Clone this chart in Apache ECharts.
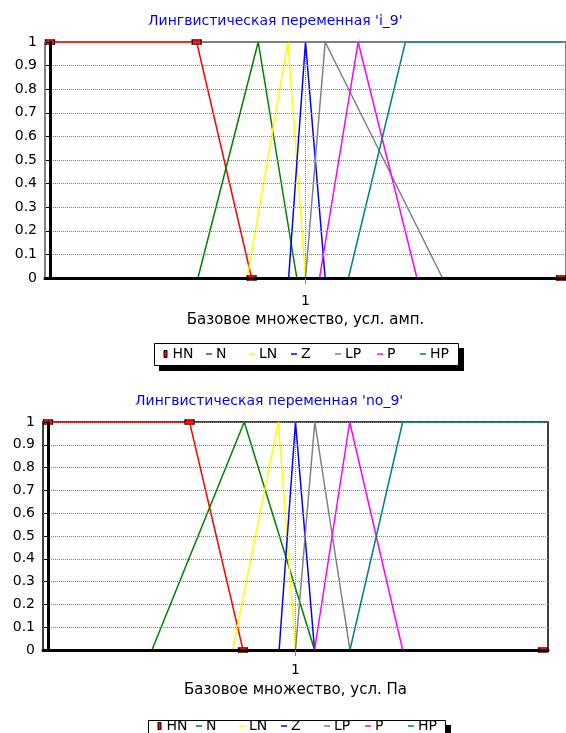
<!DOCTYPE html>
<html><head><meta charset="utf-8">
<script src="https://cdn.jsdelivr.net/npm/echarts@6/dist/echarts.min.js"></script>
<style>html,body{margin:0;padding:0;background:#fff}#c{width:566px;height:733px}</style>
</head><body><div id="c"></div>
<script>
// ---- Data ----
const seriesNames = ['HN', 'N', 'LN', 'Z', 'LP', 'P', 'HP'];
const seriesColors = ['#FF0000', '#008000', '#FFFF00', '#0000FF', '#808080', '#FF00FF', '#008080'];
const tickLabels = [1];

// chart 1: 'i_9'
const i9_HN_x = [0, 0.574, 0.789, 2];   const i9_HN_y = [1, 1, 0, 0];
const i9_N_x  = [0.579, 0.815, 0.966];  const i9_N_y  = [0, 1, 0];
const i9_LN_x = [0.772, 0.931, 1.0];    const i9_LN_y = [0, 1, 0];
const i9_Z_x  = [0.934, 1.0, 1.077];    const i9_Z_y  = [0, 1, 0];
const i9_LP_x = [1.0, 1.077, 1.536];    const i9_LP_y = [0, 1, 0];
const i9_P_x  = [1.055, 1.206, 1.436];  const i9_P_y  = [0, 1, 0];
const i9_HP_x = [1.168, 1.391, 2];      const i9_HP_y = [0, 1, 1];

// chart 2: 'no_9'
const no9_HN_x = [0, 0.572, 0.788, 2];  const no9_HN_y = [1, 1, 0, 0];
const no9_N_x  = [0.420, 0.793, 1.077]; const no9_N_y  = [0, 1, 0];
const no9_LN_x = [0.746, 0.931, 1.0];   const no9_LN_y = [0, 1, 0];
const no9_Z_x  = [0.934, 1.0, 1.077];   const no9_Z_y  = [0, 1, 0];
const no9_LP_x = [1.0, 1.078, 1.22];    const no9_LP_y = [0, 1, 0];
const no9_P_x  = [1.077, 1.219, 1.433]; const no9_P_y  = [0, 1, 0];
const no9_HP_x = [1.22, 1.433, 2];      const no9_HP_y = [0, 1, 1];

const titles = ["Лингвистическая переменная 'i_9'", "Лингвистическая переменная 'no_9'"];
const axisNames = ['Базовое множество, усл. амп.', 'Базовое множество, усл. Па'];

const chart1 = [[i9_HN_x,i9_HN_y],[i9_N_x,i9_N_y],[i9_LN_x,i9_LN_y],[i9_Z_x,i9_Z_y],[i9_LP_x,i9_LP_y],[i9_P_x,i9_P_y],[i9_HP_x,i9_HP_y]];
const chart2 = [[no9_HN_x,no9_HN_y],[no9_N_x,no9_N_y],[no9_LN_x,no9_LN_y],[no9_Z_x,no9_Z_y],[no9_LP_x,no9_LP_y],[no9_P_x,no9_P_y],[no9_HP_x,no9_HP_y]];

// ---- Layout ----
const FONT = "'DejaVu Sans', sans-serif";
const legendItemLeft = [[162, 206, 249, 291, 335, 377, 420], [156, 196, 239, 281, 324, 365, 408]];
const legendTop = [347, 719];
const legendBox = [{ x: 154, y: 343, w: 304, h: 22 }, { x: 148, y: 720, w: 297, h: 22 }];

const dashIcon = 'path://M0 0h0.05v0.05h-0.05z M0 3.3h6v1.4h-6z M5.95 7.95h0.05v0.05h-0.05z';
const hnIcon = 'path://M0 0h0.05v0.05h-0.05z M1.5 0.5h3v7h-3z M5.95 7.95h0.05v0.05h-0.05z';

function makeSeries(chartData, idx) {
  return chartData.map((pair, k) => {
    const s = {
      name: seriesNames[k], type: 'line',
      xAxisIndex: idx, yAxisIndex: idx,
      data: pair[0].map((x, j) => [x, pair[1][j]]),
      lineStyle: { color: seriesColors[k], width: 1.5 },
      itemStyle: { color: seriesColors[k] },
      showSymbol: k === 0, symbol: k === 0 ? 'rect' : 'none',
      symbolSize: [9, 5],
      animation: false, z: 3
    };
    if (k === 0) {
      s.itemStyle = { color: '#FF0000', borderColor: '#000', borderWidth: 1 };
      s.markLine = {
        silent: true, symbol: 'none', z: 1,
        label: { show: false },
        lineStyle: { color: '#808080', type: 'dotted', width: 1 },
        data: tickLabels.map(v => ({ xAxis: v }))
      };
    }
    return s;
  });
}

function makeLegends(idx) {
  return seriesNames.map((n, k) => ({
    left: legendItemLeft[idx][k], top: legendTop[idx], orient: 'horizontal',
    padding: 0, itemWidth: 6, itemHeight: 8, itemGap: 0,
    selectedMode: false, z: 10,
    textStyle: { fontFamily: FONT, fontSize: 14, color: '#000', padding: [0, 0, 0, -1] },
    data: [ k === 0
      ? { name: n, icon: hnIcon, itemStyle: { color: '#FF0000', borderColor: '#000', borderWidth: 1 } }
      : { name: n, icon: dashIcon, itemStyle: { color: seriesColors[k], borderWidth: 0 } } ]
  }));
}

function makeX(idx, min, max, nameGap, margin) {
  return {
    gridIndex: idx, type: 'value', min: min, max: max, z: 5,
    name: axisNames[idx], nameLocation: 'middle', nameGap: nameGap,
    nameTextStyle: { fontFamily: FONT, fontSize: 15, color: '#000' },
    axisLine: { show: true, lineStyle: { color: '#000', width: 3 } },
    axisTick: { show: true, customValues: tickLabels, length: 6, lineStyle: { color: '#808080', width: 1 } },
    axisLabel: { show: true, customValues: tickLabels, fontFamily: FONT, fontSize: 14, color: '#000', margin: margin },
    splitLine: { show: false }
  };
}
function makeY(idx) {
  return {
    gridIndex: idx, type: 'value', min: 0, max: 1, interval: 0.1, z: 5,
    axisLine: { show: true, lineStyle: { color: '#000', width: 3 } },
    axisTick: { show: true, length: 4, lineStyle: { color: '#000', width: 1 } },
    axisLabel: { fontFamily: FONT, fontSize: 14, color: '#000', margin: 8,
      formatter: v => String(Math.round(v * 10) / 10) },
    splitLine: { show: true, lineStyle: { color: '#808080', type: 'dotted', width: 1 } }
  };
}

const boxGraphics = [];
legendBox.forEach(b => {
  boxGraphics.push({ type: 'rect', z: 1, silent: true,
    shape: { x: b.x + 5, y: b.y + 5, width: b.w + 1, height: b.h + 1 },
    style: { fill: '#000' } });
  boxGraphics.push({ type: 'rect', z: 2, silent: true,
    shape: { x: b.x + 0.5, y: b.y + 0.5, width: b.w, height: b.h },
    style: { fill: '#fff', stroke: '#000', lineWidth: 1 } });
});

const option = {
  backgroundColor: '#fff',
  animation: false,
  title: [
    { text: titles[0], left: 148, top: 14, textStyle: { fontFamily: FONT, fontSize: 14, fontWeight: 'normal', color: '#0000FF' }, padding: 0 },
    { text: titles[1], left: 135, top: 394, textStyle: { fontFamily: FONT, fontSize: 14, fontWeight: 'normal', color: '#0000FF' }, padding: 0 }
  ],
  graphic: boxGraphics,
  legend: makeLegends(0).concat(makeLegends(1)),
  grid: [
    { left: 45, top: 42, width: 522, height: 236, show: true, borderColor: '#000', borderWidth: 1, backgroundColor: '#fff' },
    { left: 43, top: 422, width: 505, height: 228, show: true, borderColor: '#000', borderWidth: 1.5, backgroundColor: '#fff' }
  ],
  xAxis: [ makeX(0, -0.0195, 2.0195, 35, 16), makeX(1, -0.02, 2.02, 33, 13) ],
  yAxis: [ makeY(0), makeY(1) ],
  series: makeSeries(chart1, 0).concat(makeSeries(chart2, 1))
};

const chart = echarts.init(document.getElementById('c'), null, { renderer: 'canvas' });
chart.setOption(option);
</script>
</body></html>
